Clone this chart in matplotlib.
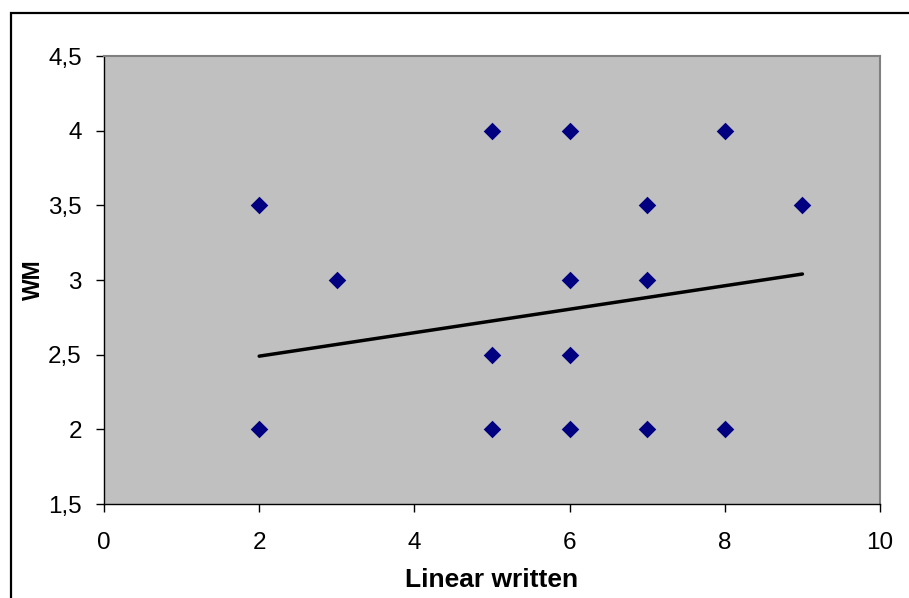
import numpy as np
import matplotlib
matplotlib.use('Agg')
import matplotlib.pyplot as plt
from matplotlib.patches import Rectangle
from matplotlib.ticker import FuncFormatter

plt.rcParams['font.family'] = ['Liberation Sans', 'DejaVu Sans']

# data
linear_written = [2, 2, 3, 5, 5, 5, 6, 6, 6, 6, 7, 7, 7, 8, 8, 9]
wm = [3.5, 2, 3, 4, 2.5, 2, 4, 3, 2.5, 2, 3.5, 3, 2, 4, 2, 3.5]

# linear trend line end points
trend_x = [2, 9]
trend_y = [2.49, 3.04]

x_ticks = [0, 2, 4, 6, 8, 10]
y_ticks = [1.5, 2, 2.5, 3, 3.5, 4, 4.5]

W, H = 909, 598
fig = plt.figure(figsize=(W / 100, H / 100), dpi=100)
ax = fig.add_axes([104 / W, 1 - 504 / H, (880 - 104) / W, (504 - 56) / H])

ax.set_facecolor('#C0C0C0')
ax.plot(trend_x, trend_y, color='black', linewidth=2.5, solid_capstyle='round', zorder=2)
ax.scatter(linear_written, wm, marker='D', s=80, color='#000080', zorder=3, linewidths=0)

ax.set_xlim(0, 10)
ax.set_ylim(1.5, 4.5)
ax.set_xticks(x_ticks)
ax.set_yticks(y_ticks)
ax.yaxis.set_major_formatter(FuncFormatter(lambda v, p: ('%g' % v).replace('.', ',')))
ax.tick_params(direction='out', length=6, width=1, labelsize=17.5, color='black')
ax.tick_params(axis='x', pad=14)
ax.tick_params(axis='y', pad=10)

for side in ['top', 'right']:
    ax.spines[side].set_color('#808080')
    ax.spines[side].set_linewidth(1.5)
for side in ['left', 'bottom']:
    ax.spines[side].set_color('black')
    ax.spines[side].set_linewidth(1)

ax.set_xlabel('Linear written', fontsize=19, fontweight='bold', labelpad=10)
ax.set_ylabel('WM', fontsize=16.5, fontweight='bold', labelpad=2.5)

# outer chart border (left and top edges visible)
fig.patches.append(Rectangle((10.5 / W, -0.1), 1.2, 1 - 13 / H + 0.1, transform=fig.transFigure,
                             fill=False, edgecolor='black', linewidth=1.6))

fig.savefig('out.png', dpi=100)
